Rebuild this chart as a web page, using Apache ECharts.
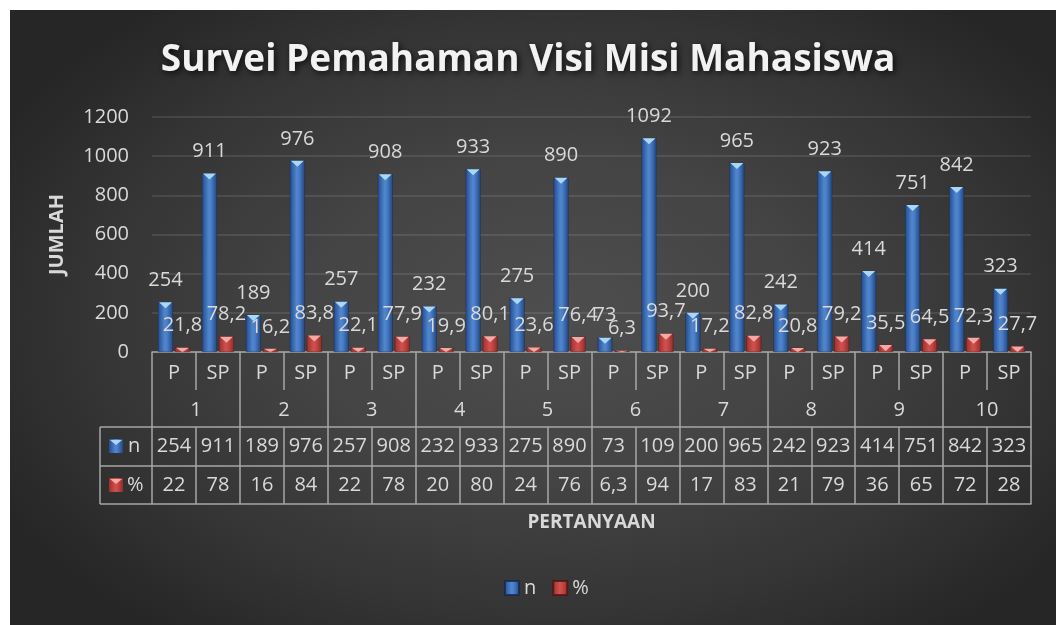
<!DOCTYPE html>
<html>
<head>
<meta charset="utf-8">
<script src="https://cdn.jsdelivr.net/npm/echarts@6/dist/echarts.min.js"></script>
<style>
  html, body { margin: 0; padding: 0; background: #ffffff; }
  #bg { position: absolute; left: 10px; top: 10px; width: 1046px; height: 615px;
        background: radial-gradient(ellipse 60% 65% at 52% 50%, #4e4e4e 0%, #444444 40%, #343434 75%, #262626 100%); }
  #chart { position: absolute; left: 0; top: 0; width: 1056px; height: 625px; }
</style>
</head>
<body>
<div id="bg"></div>
<div id="chart"></div>
<script>
// ---- data ----
const groups = ['1', '2', '3', '4', '5', '6', '7', '8', '9', '10'];
const subCats = ['P', 'SP'];
const nValues = [254, 911, 189, 976, 257, 908, 232, 933, 275, 890, 73, 1092, 200, 965, 242, 923, 414, 751, 842, 323];
const pctValues = [21.8, 78.2, 16.2, 83.8, 22.1, 77.9, 19.9, 80.1, 23.6, 76.4, 6.3, 93.7, 17.2, 82.8, 20.8, 79.2, 35.5, 64.5, 72.3, 27.7];
const tableN = ['254', '911', '189', '976', '257', '908', '232', '933', '275', '890', '73', '109', '200', '965', '242', '923', '414', '751', '842', '323'];
const tablePct = ['22', '78', '16', '84', '22', '78', '20', '80', '24', '76', '6,3', '94', '17', '83', '21', '79', '36', '65', '72', '28'];
const yMin = 0, yMax = 1200, yStep = 200;

// ---- layout / style ----
const FONT = 'Open Sans';
const TXT = '#d9d9d9';
const LINE = '#a6a6a6';
const G_LEFT = 152, G_RIGHT = 25, G_TOP = 117, G_BOTTOM = 273;
const AXIS_Y = 625 - G_BOTTOM;
const PLOT_H = AXIS_Y - G_TOP;
const ROW_PSP = 38, ROW_GRP = 37, ROW_N = 39, ROW_P = 38;
const TRI_H = 6;

const categories = [];
groups.forEach(g => subCats.forEach(s => categories.push(s + '|' + g)));

const blueGrad = { type: 'linear', x: 0, y: 0, x2: 1, y2: 0, colorStops: [
  { offset: 0, color: '#264b8a' }, { offset: 0.45, color: '#4f86d0' }, { offset: 0.6, color: '#4a7fc8' }, { offset: 1, color: '#23467f' } ] };
const redGrad = { type: 'linear', x: 0, y: 0, x2: 1, y2: 0, colorStops: [
  { offset: 0, color: '#9c2f2d' }, { offset: 0.45, color: '#d0504c' }, { offset: 0.6, color: '#c94b47' }, { offset: 1, color: '#922b29' } ] };

const labelFmt = p => String(p.value).replace('.', ',');
const triPath = 'path://M0,0 L10,0 L5,5 Z';
// bevel triangle never taller than the bar itself
const triData = vals => vals.map(v => ({ value: v, symbolSize: [13, Math.max(0.5, Math.min(TRI_H, v / (yMax - yMin) * PLOT_H))] }));

const chart = echarts.init(document.getElementById('chart'), null, { renderer: 'canvas' });

const rowY1 = AXIS_Y + ROW_PSP + ROW_GRP;
const rowY2 = rowY1 + ROW_N;
const rowY3 = rowY2 + ROW_P;

const option = {
  animation: false,
  title: {
    text: 'Survei Pemahaman Visi Misi Mahasiswa',
    left: 'center', top: 37,
    textStyle: { fontFamily: FONT, fontWeight: 'bold', fontSize: 37, color: '#f2f2f2',
      textShadowColor: 'rgba(0,0,0,0.75)', textShadowBlur: 6, textShadowOffsetX: 2, textShadowOffsetY: 2 }
  },
  legend: {
    data: ['n', '%'], bottom: 22, left: 499, itemWidth: 14, itemHeight: 14, itemGap: 16,
    icon: 'rect',
    textStyle: { fontFamily: FONT, fontSize: 20, color: TXT }
  },
  grid: { left: G_LEFT, right: G_RIGHT, top: G_TOP, bottom: G_BOTTOM, containLabel: false },
  yAxis: {
    type: 'value', min: yMin, max: yMax, interval: yStep,
    name: 'JUMLAH', nameLocation: 'middle', nameGap: 85, nameRotate: 90,
    nameTextStyle: { fontFamily: FONT, fontWeight: 'bold', fontSize: 20, color: TXT },
    axisLine: { show: false }, axisTick: { show: false },
    axisLabel: { fontFamily: FONT, fontSize: 20, color: TXT, margin: 23, formatter: v => String(v) },
    splitLine: { lineStyle: { color: 'rgba(255,255,255,0.13)', width: 1.5 } }
  },
  xAxis: [
    { type: 'category', data: categories, position: 'bottom', offset: 0,
      axisLine: { show: true, lineStyle: { color: LINE, width: 1.5 } },
      axisTick: { show: true, interval: 0, length: ROW_PSP, lineStyle: { color: LINE, width: 1.5 } },
      axisLabel: { interval: 0, margin: 11, fontFamily: FONT, fontSize: 20, color: TXT, formatter: v => v.split('|')[0] } },
    { type: 'category', data: groups, position: 'bottom', offset: 0,
      axisLine: { show: false },
      axisTick: { show: true, interval: 0, length: ROW_PSP + ROW_GRP, lineStyle: { color: LINE, width: 1.5 } },
      axisLabel: { interval: 0, margin: ROW_PSP + 10, fontFamily: FONT, fontSize: 20, color: TXT } },
    { type: 'category', data: tableN, position: 'bottom', offset: ROW_PSP + ROW_GRP,
      axisLine: { show: true, lineStyle: { color: LINE, width: 1.5 } },
      axisTick: { show: true, interval: 0, length: ROW_N, lineStyle: { color: LINE, width: 1.5 } },
      axisLabel: { interval: 0, margin: 9, fontFamily: FONT, fontSize: 20, color: TXT } },
    { type: 'category', data: tablePct, position: 'bottom', offset: ROW_PSP + ROW_GRP + ROW_N,
      axisLine: { show: true, lineStyle: { color: LINE, width: 1.5 } },
      axisTick: { show: true, interval: 0, length: ROW_P, lineStyle: { color: LINE, width: 1.5 } },
      axisLabel: { interval: 0, margin: 9, fontFamily: FONT, fontSize: 20, color: TXT } },
    { type: 'category', data: categories, position: 'bottom', offset: ROW_PSP + ROW_GRP + ROW_N + ROW_P,
      name: 'PERTANYAAN', nameLocation: 'middle', nameGap: 9,
      nameTextStyle: { fontFamily: FONT, fontWeight: 'bold', fontSize: 19, color: TXT, verticalAlign: 'top' },
      axisLine: { show: true, lineStyle: { color: LINE, width: 1.5 } },
      axisTick: { show: false }, axisLabel: { show: false } }
  ],
  series: [
    { name: 'n', type: 'bar', xAxisIndex: 0, data: nValues, barWidth: 15, barGap: '13%',
      itemStyle: { color: blueGrad, borderColor: 'rgba(20,40,80,0.8)', borderWidth: 0.5 },
      label: { show: true, position: 'top', distance: 12, fontFamily: FONT, fontSize: 20, color: TXT, formatter: labelFmt },
      z: 2 },
    { name: '%', type: 'bar', xAxisIndex: 0, data: pctValues, barWidth: 15, barGap: '13%',
      itemStyle: { color: redGrad, borderColor: 'rgba(80,20,20,0.8)', borderWidth: 0.5 },
      label: { show: true, position: 'top', distance: 12, fontFamily: FONT, fontSize: 20, color: TXT, formatter: labelFmt },
      z: 2 },
    { name: 'nTop', type: 'pictorialBar', xAxisIndex: 0, data: triData(nValues), barWidth: 15, barGap: '13%',
      symbol: triPath, symbolPosition: 'end', symbolOffset: [0, 0],
      itemStyle: { color: '#a9d8f7' }, z: 3, silent: true },
    { name: '%Top', type: 'pictorialBar', xAxisIndex: 0, data: triData(pctValues), barWidth: 15, barGap: '13%',
      symbol: triPath, symbolPosition: 'end', symbolOffset: [0, 0],
      itemStyle: { color: '#f5a9a6' }, z: 3, silent: true }
  ],
  graphic: [
    { type: 'line', shape: { x1: 100, y1: rowY1, x2: G_LEFT, y2: rowY1 }, style: { stroke: LINE, lineWidth: 1.5 } },
    { type: 'line', shape: { x1: 100, y1: rowY2, x2: G_LEFT, y2: rowY2 }, style: { stroke: LINE, lineWidth: 1.5 } },
    { type: 'line', shape: { x1: 100, y1: rowY3, x2: G_LEFT, y2: rowY3 }, style: { stroke: LINE, lineWidth: 1.5 } },
    { type: 'line', shape: { x1: 100, y1: rowY1, x2: 100, y2: rowY3 }, style: { stroke: LINE, lineWidth: 1.5 } },
    { type: 'rect', shape: { x: 109, y: rowY1 + 12, width: 14, height: 14 }, style: { fill: blueGrad } },
    { type: 'polygon', shape: { points: [[110, rowY1 + 13], [122, rowY1 + 13], [116, rowY1 + 18]] }, style: { fill: '#a9d8f7' } },
    { type: 'text', style: { x: 128, y: rowY1 + ROW_N / 2, text: 'n', font: '20px "Open Sans"', fill: TXT, verticalAlign: 'middle' } },
    { type: 'rect', shape: { x: 109, y: rowY2 + 12, width: 14, height: 14 }, style: { fill: redGrad } },
    { type: 'polygon', shape: { points: [[110, rowY2 + 13], [122, rowY2 + 13], [116, rowY2 + 18]] }, style: { fill: '#f5a9a6' } },
    { type: 'text', style: { x: 127, y: rowY2 + ROW_P / 2, text: '%', font: '20px "Open Sans"', fill: TXT, verticalAlign: 'middle' } }
  ]
};
chart.setOption(option);
</script>
</body>
</html>
